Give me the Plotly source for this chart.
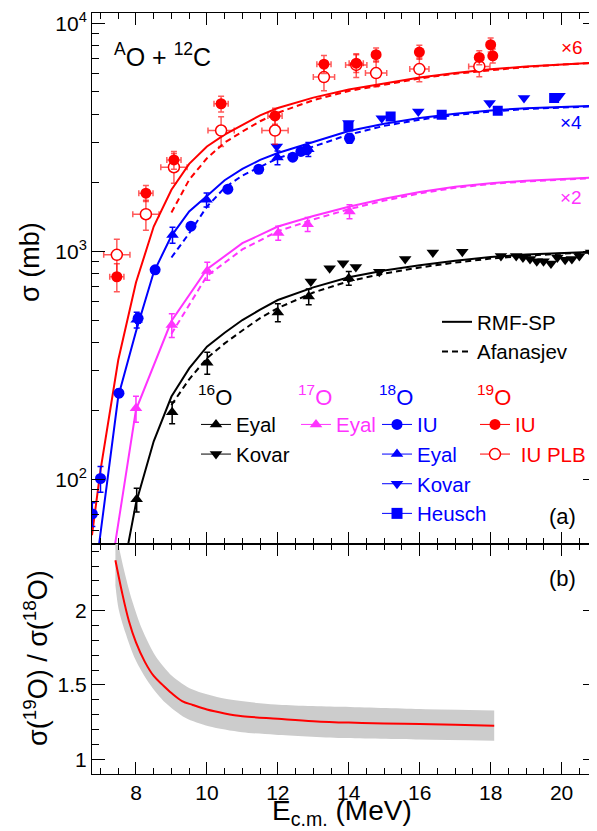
import plotly.graph_objects as go

FONT = "Liberation Sans, Arial, sans-serif"
RED = "#ff0000"
BLUE = "#0000ff"
MAG = "#ff33ff"
BLACK = "#000000"

# ---------------- theory curves (values as drawn, incl. scale factors) -------------
# 19O (x6)
e19_rmf = [6.76, 7.0, 7.5, 8.0, 8.5, 9.0, 9.5, 10.0, 10.5, 11.0, 11.5, 12.0, 13.0, 14.0, 15.0, 16.0, 17.0, 18.0, 19.0, 20.0, 21.0]
s19_rmf = [57, 110, 334, 730, 1285, 1862, 2420, 2884, 3250, 3591, 3950, 4250, 4720, 5120, 5460, 5780, 6050, 6280, 6460, 6610, 6730]
e19_afa = [9.0, 9.5, 10.0, 10.5, 11.0, 11.5, 12.0, 13.0, 14.0, 15.0, 16.0, 17.0, 18.0, 19.0, 20.0, 21.0]
s19_afa = [1480, 2061, 2560, 3000, 3350, 3720, 4050, 4600, 5050, 5400, 5730, 6010, 6240, 6430, 6590, 6710]
# 18O (x4)
e18_rmf = [6.96, 7.0, 7.5, 8.0, 8.5, 9.0, 9.5, 10.0, 10.5, 11.0, 11.5, 12.0, 13.0, 14.0, 15.0, 16.0, 17.0, 18.0, 19.0, 20.0, 21.0]
s18_rmf = [52, 58, 231, 445, 810, 1170, 1496, 1750, 2050, 2300, 2517, 2698, 3020, 3370, 3630, 3840, 4010, 4150, 4240, 4300, 4345]
e18_afa = [9.0, 9.5, 10.0, 10.5, 11.0, 11.5, 12.0, 13.0, 14.0, 15.0, 16.0, 17.0, 18.0, 19.0, 20.0, 21.0]
s18_afa = [940, 1200, 1570, 1900, 2150, 2355, 2560, 2880, 3250, 3550, 3780, 3960, 4100, 4210, 4280, 4330]
# 17O (x2)
e17_rmf = [7.41, 8.0, 9.0, 10.0, 11.0, 12.0, 13.0, 14.0, 15.0, 16.0, 17.0, 18.0, 19.0, 20.0, 21.0]
s17_rmf = [52, 202, 495, 835, 1086, 1285, 1430, 1570, 1700, 1820, 1920, 1990, 2040, 2080, 2108]
e17_afa = [9.0, 10.0, 11.0, 12.0, 13.0, 14.0, 15.0, 16.0, 17.0, 18.0, 19.0, 20.0, 21.0]
s17_afa = [435, 780, 1020, 1225, 1380, 1530, 1670, 1795, 1900, 1975, 2025, 2070, 2100]
# 16O
e16_rmf = [7.78, 8.0, 8.5, 9.0, 9.5, 10.0, 10.5, 11.0, 11.5, 12.0, 13.0, 14.0, 15.0, 16.0, 17.0, 18.0, 19.0, 20.0, 21.0]
s16_rmf = [52, 78.7, 147, 231, 307, 382, 440, 500, 555, 612, 695, 770, 825, 870, 910, 945, 968, 985, 997]
e16_afa = [9.0, 9.5, 10.0, 10.5, 11.0, 11.5, 12.0, 13.0, 14.0, 15.0, 16.0, 17.0, 18.0, 19.0, 20.0, 21.0]
s16_afa = [212, 275, 340, 395, 450, 510, 564, 660, 740, 800, 850, 893, 930, 957, 977, 990]

# ---------------- data points ----------------
o19_iu_e = [7.46, 8.28, 9.07, 10.40, 11.92, 13.30, 14.21, 14.77, 15.99, 17.68, 18.00, 18.06]
o19_iu_s = [774, 1799, 2517, 4437, 3925, 6620, 6680, 7280, 7480, 7080, 8050, 7200]
o19_iu_err = [14, 8, 9, 8, 8, 9, 9, 7, 7, 7, 7, 7]
o19_iu_eerr = [0.2, 0.2, 0.2, 0.2, 0.2, 0.2, 0.2, 0.0, 0.0, 0.0, 0.0, 0.0]

o19_plb_e = [7.46, 8.28, 9.07, 10.40, 11.92, 13.30, 14.21, 14.77, 15.99, 17.68]
o19_plb_s = [966, 1455, 2338, 3387, 3387, 5810, 6570, 6050, 6295, 6470]
o19_plb_err = [17, 15, 15, 15, 13, 13, 12, 13, 12, 10]
o19_plb_eerr = [0.37, 0.37, 0.37, 0.37, 0.37, 0.3, 0.3, 0.3, 0.27, 0.3]

o18_iu_e = [6.77, 7.00, 7.52, 8.06, 8.54, 9.55, 10.59, 11.46, 12.42, 12.65, 12.82, 14.02]
o18_iu_s = [70.6, 101, 239, 509, 830, 1290, 1874, 2291, 2588, 2742, 2787, 3133]
o18_iu_err = [12, 13, 4, 5, 3, 3, 3, 3, 3, 3, 3, 5]

o18_eyal_e = [8.02, 9.03, 9.99, 11.99, 12.86]
o18_eyal_s = [501, 1181, 1683, 2577, 2803]
o18_eyal_err = [8, 8, 7, 7, 7]

o18_kovar_e = [11.97, 13.99, 14.93, 15.96, 17.97, 18.94, 19.94]
o18_kovar_s = [2884, 3650, 3838, 4105, 4467, 4700, 4810]

o18_heusch_e = [13.99, 15.18, 16.62, 18.20, 19.79]
o18_heusch_s = [3525, 3900, 3970, 4130, 4700]

o17_eyal_e = [8.00, 9.01, 10.01, 12.01, 12.84, 14.02]
o17_eyal_s = [205, 476, 821, 1203, 1315, 1496]
o17_eyal_err = [13, 12, 9, 7, 7, 7]

o16_eyal_e = [8.02, 9.02, 10.01, 12.00, 12.87, 14.00]
o16_eyal_s = [81.8, 197, 325, 540, 634, 763]
o16_eyal_err = [12, 11, 11, 9, 8, 7]

o16_kovar_e = [12.93, 13.46, 13.84, 14.20, 14.86, 15.59, 16.37, 17.20, 18.29, 18.72, 18.91, 19.11,
               19.30, 19.49, 19.70, 19.88, 20.10, 20.29, 20.50, 20.83]
o16_kovar_s = [738, 844, 887, 853, 815, 925, 989, 997, 955, 955, 941, 925,
               906, 906, 885, 941, 920, 925, 955, 989]

# ---------------- ratio panel ----------------
ratio_e = [7.42, 7.6, 7.8, 8.0, 8.25, 8.5, 8.75, 9.0, 9.3, 9.6, 10.0, 10.5, 11.0, 12.0, 13.0, 14.0, 15.0, 16.0, 17.0, 18.1]
ratio_v = [2.339, 2.13, 1.93, 1.786, 1.655, 1.56, 1.50, 1.445, 1.391, 1.365, 1.334, 1.308, 1.289, 1.272, 1.256, 1.246, 1.240, 1.236, 1.231, 1.225]
band_up_e = [7.42, 7.53, 7.70, 7.89, 8.17, 8.55, 9.02, 9.58, 10.52, 11.93, 13.81, 16.0, 18.1]
band_up_v = [2.60, 2.418, 2.237, 2.068, 1.876, 1.695, 1.560, 1.470, 1.406, 1.368, 1.352, 1.337, 1.327]
band_lo_e = [7.42, 7.51, 7.70, 7.98, 8.36, 8.83, 9.39, 10.05, 10.99, 11.93, 13.81, 16.0, 18.1]
band_lo_v = [2.17, 2.011, 1.853, 1.673, 1.515, 1.379, 1.278, 1.221, 1.181, 1.165, 1.142, 1.132, 1.124]

y_ticks_top = [100, 1000, 10000]
y_ticktext_top = ["10<sup>2</sup>", "10<sup>3</sup>", "10<sup>4</sup>"]
y_minor_top = [m * d for d in (10, 100, 1000) for m in range(2, 10)]
y_ticks_bot = [1, 1.5, 2]
y_ticktext_bot = ["1", "1.5", "2"]

fig = go.Figure()

DASH = "6px,4px"


def curve(x, y, color, dash, xa="x", ya="y", width=2, shape="linear"):
    fig.add_trace(go.Scatter(x=x, y=y, mode="lines", xaxis=xa, yaxis=ya,
                             line=dict(color=color, width=width, dash=dash, shape=shape),
                             showlegend=False, hoverinfo="skip"))


# band (ratio): lower edge, then upper edge filled down to it
fig.add_trace(go.Scatter(x=band_lo_e, y=band_lo_v, mode="lines",
                         line=dict(width=0, color="#cccccc", shape="spline", smoothing=0.8),
                         xaxis="x2", yaxis="y2", showlegend=False, hoverinfo="skip"))
fig.add_trace(go.Scatter(x=band_up_e, y=band_up_v, mode="lines", fill="tonexty",
                         fillcolor="#cccccc",
                         line=dict(width=0, color="#cccccc", shape="spline", smoothing=0.8),
                         xaxis="x2", yaxis="y2", showlegend=False, hoverinfo="skip"))
curve(ratio_e, ratio_v, RED, "solid", "x2", "y2", 2, "spline")

# theory lines
curve(e16_rmf, s16_rmf, BLACK, "solid")
curve(e16_afa, s16_afa, BLACK, DASH)
curve(e17_rmf, s17_rmf, MAG, "solid")
curve(e17_afa, s17_afa, MAG, DASH)
curve(e18_rmf, s18_rmf, BLUE, "solid")
curve(e18_afa, s18_afa, BLUE, DASH)
curve(e19_rmf, s19_rmf, RED, "solid")
curve(e19_afa, s19_afa, RED, DASH)


def points(x, y, color, symbol, size, errpct=None, xerr=None, errcolor=None, open_=False):
    kw = {}
    if errpct is not None:
        kw["error_y"] = dict(type="data", array=[v * p / 100.0 for v, p in zip(y, errpct)],
                             visible=True, color=errcolor or color, thickness=1.5, width=3)
    if xerr is not None:
        kw["error_x"] = dict(type="data", array=xerr, visible=True,
                             color=errcolor or color, thickness=1.5, width=3)
    if open_:
        marker = dict(symbol=symbol, size=size, color="white", line=dict(color=color, width=1.5))
    else:
        marker = dict(symbol=symbol, size=size, color=color, line=dict(width=0))
    fig.add_trace(go.Scatter(x=x, y=y, mode="markers", marker=marker, showlegend=False,
                             xaxis="x", yaxis="y", hoverinfo="skip", **kw))


points(o16_kovar_e, o16_kovar_s, BLACK, "triangle-down", 11)
points(o16_eyal_e, o16_eyal_s, BLACK, "triangle-up", 11, o16_eyal_err)
points(o17_eyal_e, o17_eyal_s, MAG, "triangle-up", 11, o17_eyal_err)
points(o18_heusch_e, o18_heusch_s, BLUE, "square", 10)
points(o18_kovar_e, o18_kovar_s, BLUE, "triangle-down", 11)
points(o18_eyal_e, o18_eyal_s, BLUE, "triangle-up", 11, o18_eyal_err)
points(o18_iu_e, o18_iu_s, BLUE, "circle", 11, o18_iu_err)
points(o19_plb_e, o19_plb_s, RED, "circle", 11, o19_plb_err, o19_plb_eerr,
       errcolor="rgba(255,0,0,0.65)", open_=True)
points(o19_iu_e, o19_iu_s, RED, "circle", 11, o19_iu_err, o19_iu_eerr,
       errcolor="rgba(255,0,0,0.65)")


# legend entries
def leg(name, color, symbol, legend, open_=False, mode="lines+markers", dash="solid", lw=1, group=None):
    if open_:
        marker = dict(symbol=symbol, size=11, color="white", line=dict(color=color, width=1.5))
    else:
        marker = dict(symbol=symbol, size=11, color=color, line=dict(width=0))
    fig.add_trace(go.Scatter(x=[None], y=[None], mode=mode, name=name, legend=legend,
                             legendgroup=group, marker=marker,
                             line=dict(color=color, width=lw, dash=dash),
                             xaxis="x", yaxis="y"))


leg("RMF-SP", BLACK, "circle", "legend5", mode="lines", lw=2, group="g1")
leg("Afanasjev", BLACK, "circle", "legend5", mode="lines", dash=DASH, lw=2, group="g2")
leg("Eyal", BLACK, "triangle-up", "legend")
leg("Kovar", BLACK, "triangle-down", "legend")
leg("Eyal", MAG, "triangle-up", "legend2")
leg("IU", BLUE, "circle", "legend3")
leg("Eyal", BLUE, "triangle-up", "legend3")
leg("Kovar", BLUE, "triangle-down", "legend3")
leg("Heusch", BLUE, "square", "legend3")
leg("IU", RED, "circle", "legend4")
leg(" IU PLB", RED, "circle", "legend4", open_=True)


def legend_cfg(x, y, color, title, gap=0):
    d = dict(x=x, y=y, xanchor="left", yanchor="top", bgcolor="rgba(0,0,0,0)",
             borderwidth=0, font=dict(family=FONT, size=20.5, color=color),
             itemwidth=30, tracegroupgap=gap, traceorder="normal", groupclick="toggleitem")
    if title:
        d["title"] = dict(text=title, font=dict(family=FONT, size=22, color=color))
    return d


# page offset: the browser body has an 8px margin
OFF = 8
X0, PW, PB, PH = 92.0, 504.0, 774.0, 761.0


def px(p):
    return (p - X0) / PW


def py(p):
    return (PB - p) / PH


axis_common = dict(showline=True, linecolor=BLACK, linewidth=1, mirror="allticks",
                   ticks="inside", tickcolor=BLACK, showgrid=False, zeroline=False,
                   tickfont=dict(family=FONT, size=21, color=BLACK))

split = 0.3025
fig.update_layout(
    width=597 - OFF, height=831 - OFF,
    margin=dict(l=92 - OFF, r=1, t=13 - OFF, b=57, pad=0),
    paper_bgcolor="white", plot_bgcolor="white",
    font=dict(family=FONT, color=BLACK),
    xaxis=dict(domain=[0, 1], anchor="y", range=[6.76, 20.97], dtick=2, tick0=0, ticklen=12,
               showticklabels=False,
               minor=dict(ticks="inside", dtick=0.5, tick0=0, ticklen=6, tickcolor=BLACK),
               **axis_common),
    yaxis=dict(domain=[split, 1], anchor="x", type="log", range=[1.718, 4.045],
               tickmode="array", tickvals=y_ticks_top, ticktext=y_ticktext_top, ticklen=13,
               minor=dict(ticks="inside", tickmode="array", tickvals=y_minor_top, ticklen=7,
                          tickcolor=BLACK),
               **axis_common),
    xaxis2=dict(domain=[0, 1], anchor="y2", range=[6.76, 20.97], dtick=2, tick0=0, ticklen=12,
                matches="x",
                minor=dict(ticks="inside", dtick=0.5, tick0=0, ticklen=6, tickcolor=BLACK),
                **axis_common),
    yaxis2=dict(domain=[0, split], anchor="x2", range=[0.9, 2.45],
                tickmode="array", tickvals=y_ticks_bot, ticktext=y_ticktext_bot, ticklen=13,
                minor=dict(ticks="inside", dtick=0.1, tick0=0, ticklen=7, tickcolor=BLACK),
                **axis_common),
    legend=legend_cfg(px(196), py(376), BLACK, "<sup>16</sup>O"),
    legend2=legend_cfg(px(296), py(376), MAG, "<sup>17</sup>O"),
    legend3=legend_cfg(px(377), py(376), BLUE, "<sup>18</sup>O"),
    legend4=legend_cfg(px(475), py(376), RED, "<sup>19</sup>O"),
    legend5=legend_cfg(px(437), py(302), BLACK, None, gap=5),
    showlegend=True,
)

ann = [
    dict(text="<sup>A</sup>O + <sup>12</sup>C", x=px(112), y=py(55), xanchor="left", yanchor="middle",
         font=dict(size=25, color=BLACK)),
    dict(text="×6", x=px(572), y=py(48), xanchor="center", yanchor="middle", font=dict(size=19, color=RED)),
    dict(text="×4", x=px(571), y=py(122), xanchor="center", yanchor="middle", font=dict(size=19, color=BLUE)),
    dict(text="×2", x=px(571), y=py(197), xanchor="center", yanchor="middle", font=dict(size=19, color=MAG)),
    dict(text="(a)", x=px(562), y=py(516), xanchor="center", yanchor="middle", font=dict(size=22, color=BLACK)),
    dict(text="(b)", x=px(562), y=py(578), xanchor="center", yanchor="middle", font=dict(size=22, color=BLACK)),
    dict(text="E<sub>c.m.</sub> (MeV)", x=px(342), y=py(812), xanchor="center", yanchor="middle",
         font=dict(size=28, color=BLACK)),
    dict(text="σ (mb)", x=px(30), y=py(262), xanchor="center", yanchor="middle", textangle=-90,
         font=dict(size=27, color=BLACK)),
    dict(text="σ(<sup>19</sup>O) / σ(<sup>18</sup>O)", x=px(36), y=py(658), xanchor="center",
         yanchor="middle", textangle=-90, font=dict(size=27, color=BLACK)),
]
for a in ann:
    a.update(xref="paper", yref="paper", showarrow=False)
    a["font"]["family"] = FONT
fig.update_layout(annotations=ann)

fig.write_html("out.html")
